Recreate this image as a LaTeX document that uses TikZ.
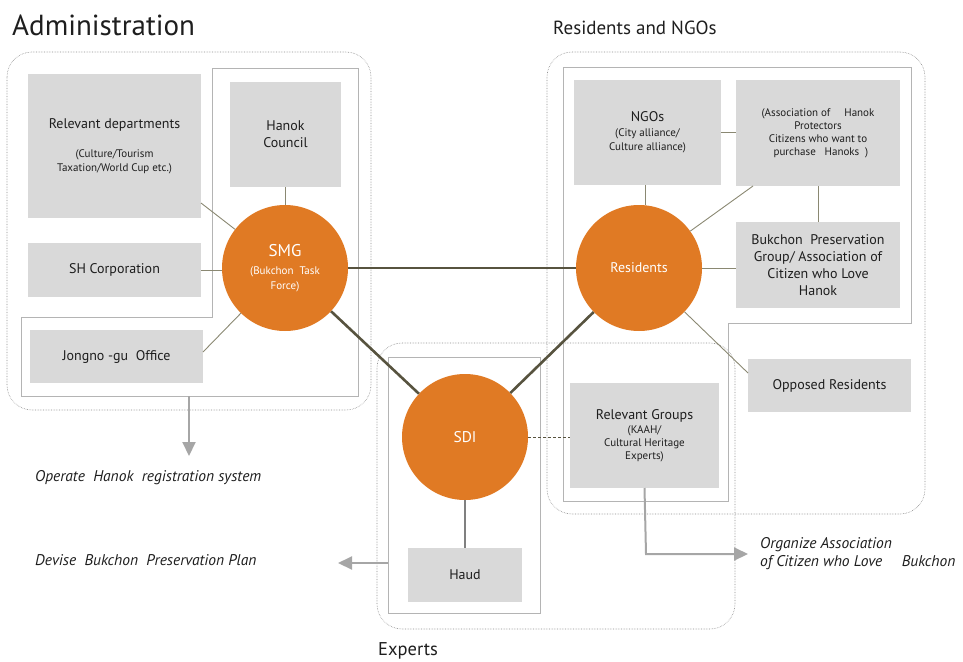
\documentclass[tikz,border=0pt]{standalone}
\usepackage{fontspec}
\setmainfont{PT Sans}
\usetikzlibrary{arrows.meta,calc}
\definecolor{boxgray}{HTML}{D9D9D9}
\definecolor{orng}{HTML}{E07A24}
\definecolor{thickc}{HTML}{57533F}
\definecolor{thinc}{HTML}{8A8872}
\definecolor{frame}{HTML}{B4B4B4}
\definecolor{dotc}{HTML}{8C8C8C}
\definecolor{arr}{HTML}{A6A6A6}
\definecolor{txt}{HTML}{1E1E1E}
\newcommand\smtx{\fontsize{11}{13}\selectfont}
\begin{document}
\begin{tikzpicture}[x=1pt,y=-1pt,
  graybox/.style={fill=boxgray,draw=none,inner sep=2pt,align=center,text=txt,font=\fontsize{14}{17}\selectfont},
  circ/.style={circle,fill=orng,draw=none,minimum size=126pt,inner sep=0pt,text=white,align=center},
  outerbox/.style={draw=dotc,densely dotted,line width=0.6pt,rounded corners=25pt},
  innerbox/.style={draw=frame,line width=0.9pt},
  thinline/.style={draw=thinc,line width=0.9pt},
  thickline/.style={draw=thickc,line width=2.6pt},
  grayarrow/.style={draw=arr,line width=2pt,-{Triangle[width=13pt,length=14pt]}},
  smalltxt/.style={font=\smtx},
  itxt/.style={font=\fontsize{15.5}{18}\selectfont\itshape,text=txt,anchor=west,align=left,inner sep=0pt}
]
\useasboundingbox (0,0) rectangle (963,661);

% titles
\node[anchor=west,inner sep=0pt,text=txt,font=\fontsize{29}{32}\selectfont] (tadm) at (12,25) {Administration};
\node[anchor=west,inner sep=0pt,text=txt,font=\fontsize{19}{22}\selectfont] (tres) at (553,28) {Residents and NGOs};
\node[anchor=west,inner sep=0pt,text=txt,font=\fontsize{18.5}{22}\selectfont] (texp) at (378,651) {Experts};

% outer dotted groups
\draw[outerbox] (7,52) rectangle (371,410);
\draw[outerbox] (547,52) rectangle (925,514);
\draw[outerbox] (377,343) rectangle (735,629);

% inner frames
\draw[innerbox] (212,68) -- (358,68) -- (358,396) -- (21,396) -- (21,317) -- (212,317) -- cycle;
\draw[innerbox] (563,67) -- (911,67) -- (911,323) -- (728,323) -- (728,501) -- (563,501) -- cycle;
\draw[innerbox] (388,357) rectangle (540,613);

% boxes
\node[graybox,minimum width=173pt,minimum height=144pt] (rd) at (114.5,146)
  {Relevant departments\\[12pt]{\smtx (Culture/Tourism}\\[-3pt]{\smtx Taxation/World Cup etc.)}};
\node[graybox,minimum width=111pt,minimum height=105pt] (hc) at (285.5,134.5) {Hanok\\Council};
\node[graybox,minimum width=173pt,minimum height=54pt] (sh) at (114.5,270) {SH Corporation};
\node[graybox,minimum width=173pt,minimum height=53pt] (jg) at (116.5,356.5) {Jongno -gu\ \ Office};

\node[graybox,minimum width=147pt,minimum height=105pt] (ngo) at (647.5,132.5)
  {NGOs\\[-2pt]{\smtx (City alliance/}\\[-3pt]{\smtx Culture alliance)}};
\node[graybox,minimum width=164pt,minimum height=106pt,smalltxt] (assoc) at (818,133)
  {(Association of\quad\ Hanok\\Protectors\\Citizens who want to\\\ \ purchase\ \ \ Hanoks\ \ )};
\node[graybox,minimum width=164pt,minimum height=86pt] (bpg) at (818,265)
  {Bukchon\ \ Preservation\\Group/ Association of\\Citizen who Love\\Hanok};
\node[graybox,minimum width=163pt,minimum height=53pt] (opp) at (829.5,385.5) {Opposed Residents};
\node[graybox,minimum width=149pt,minimum height=105pt] (rg) at (644.5,435.5)
  {Relevant Groups\\[-3pt]{\smtx (KAAH/}\\[-4pt]{\smtx Cultural Heritage}\\[-4pt]{\smtx Experts)}};
\node[graybox,minimum width=114pt,minimum height=54pt] (haud) at (465,575) {Haud};

% circles
\node[circ,font=\fontsize{17}{19}\selectfont] (smg) at (285,268) {SMG\\[-1pt]{\smtx (Bukchon\ \ Task}\\[-4pt]{\smtx Force)}};
\node[circ,font=\fontsize{14}{16}\selectfont] (res) at (639,268) {Residents};
\node[circ,font=\fontsize{15.5}{17}\selectfont] (sdi) at (465,437) {SDI};

% connector anchor points
\coordinate (rdin) at (201,203);
\coordinate (jgin) at (203,352);
\coordinate (associn) at (753,186);
\coordinate (oppin) at (748,373);

% thin connectors
\draw[thinline] (rdin) -- (smg);
\draw[thinline] (sh.east) -- (sh.east -| smg.west);
\draw[thinline] (jgin) -- (smg);
\draw[thinline] (hc.south) -- (hc.south |- smg.north);
\draw[thinline] (ngo.east |- 0,132) -- (assoc.west |- 0,132);
\draw[thinline] (645,185) -- (645,205);
\draw[thinline] (associn) -- (res);
\draw[thinline] (818,186) -- (818,222);
\draw[thinline] (res.east) -- (res.east -| bpg.west);
\draw[thinline] (res) -- (oppin);
\draw[draw=thickc,line width=0.7pt,densely dashed] (sdi.east) -- (sdi.east -| rg.west);
\draw[draw=gray,line width=1.5pt] (sdi.south) -- (haud.north);

% thick connectors
\draw[thickline] (smg.east) -- (res.west);
\draw[thickline] (smg) -- (sdi);
\draw[thickline] (res) -- (sdi);

% outcome arrows
\coordinate (admbot) at (189,396);
\coordinate (optip) at (189,456);
\draw[grayarrow] (admbot) -- (optip);
\node[itxt] (op) at (35,478) {Operate\ \ Hanok\ \ registration system};

\coordinate (expleft) at (388,563);
\coordinate (devtip) at (338,563);
\draw[grayarrow] (expleft) -- (devtip);
\node[itxt] (dev) at (35,560) {Devise\ \ Bukchon\ \ Preservation Plan};

\coordinate (orgtip) at (748,554);
\draw[grayarrow] (rg.south |- 0,488) -- (646,554) -- (orgtip);
\node[itxt] (org) at (760,554) {Organize Association\\of Citizen who Love\quad\ Bukchon};
\end{tikzpicture}
\end{document}
